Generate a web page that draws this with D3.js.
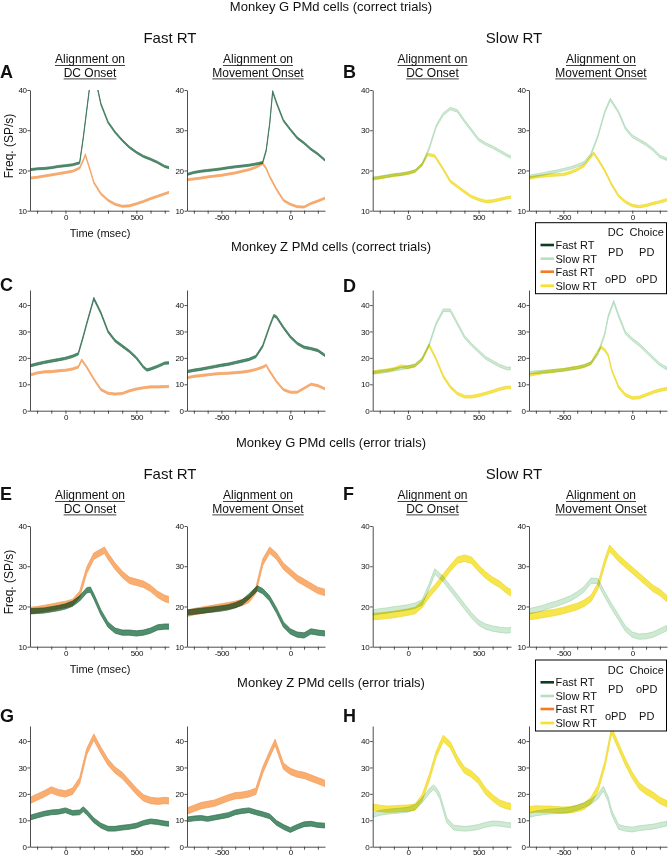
<!DOCTYPE html>
<html><head><meta charset="utf-8">
<script src="https://cdn.jsdelivr.net/npm/d3@7"></script>
<style>
body{margin:0;background:#fff}
svg{display:block}
text{font-family:"Liberation Sans",Arial,Helvetica,sans-serif;fill:#111}
</style>
</head><body>
<svg id="chart" width="668" height="857"></svg>
<script>
// ---------- DATA: [time (ms), firing rate (SP/s)] ----------
// Monkey G, correct trials, Fast RT (A)
const A_dc_PD  = [[-250,20.2],[-200,20.4],[-150,20.5],[-100,20.7],[-50,21],[0,21.2],[50,21.4],[100,21.9],[125,28],[150,35],[175,42],[190,45],[210,43],[250,36.5],[300,32],[350,29.5],[400,27.5],[450,25.8],[500,24.5],[550,23.5],[600,22.8],[650,22],[700,21],[750,20.5]];
const A_dc_oPD = [[-250,18.1],[-200,18.3],[-150,18.6],[-100,18.9],[-50,19.2],[0,19.5],[50,19.8],[100,20.6],[125,22.5],[140,23.9],[175,20],[200,17],[250,14.2],[300,12.6],[350,11.6],[400,11.1],[450,11.2],[500,11.7],[550,12.3],[600,13],[650,13.6],[700,14.2],[750,14.8]];
const A_mv_PD  = [[-750,19],[-700,19.5],[-650,19.8],[-600,20],[-550,20.2],[-500,20.4],[-450,20.7],[-400,20.9],[-350,21.1],[-300,21.3],[-250,21.6],[-200,22],[-175,25],[-150,31.5],[-128,39.6],[-100,36.8],[-50,32.4],[0,30.2],[50,28.1],[100,26.8],[150,25.3],[200,24.1],[250,22.6]];
const A_mv_oPD = [[-750,17.7],[-700,17.9],[-650,18.1],[-600,18.4],[-550,18.6],[-500,18.8],[-450,19.1],[-400,19.4],[-350,19.8],[-300,20.2],[-250,20.8],[-200,21.7],[-175,20.5],[-150,18.5],[-100,15.3],[-50,12.6],[0,11.6],[50,11],[100,10.9],[150,11.8],[200,12.4],[250,13.1]];
// Monkey G, correct trials, Slow RT (B)
const B_dc_PD  = [[-250,18.1],[-200,18.3],[-150,18.6],[-100,18.9],[-50,19.1],[0,19.4],[50,19.9],[100,21.5],[150,25.5],[200,31],[250,34],[300,35.4],[350,34.8],[400,32.3],[450,30],[500,27.7],[550,26.6],[600,25.8],[650,24.8],[700,23.8],[750,23]];
const B_dc_oPD = [[-250,17.9],[-200,18.2],[-150,18.5],[-100,18.8],[-50,19],[0,19.3],[50,19.8],[100,21.5],[140,24],[190,23.6],[250,20.3],[300,17.3],[350,16],[400,14.7],[450,13.5],[500,12.8],[550,12.3],[600,12.4],[650,12.8],[700,13.2],[750,13.5]];
const B_mv_PD  = [[-750,18.5],[-700,18.8],[-650,19.1],[-600,19.5],[-550,19.8],[-500,20.2],[-450,20.6],[-400,21.2],[-350,21.9],[-300,24],[-250,28.5],[-200,34.5],[-160,37.7],[-100,34.5],[-50,30.5],[0,28.5],[50,27.5],[100,26.5],[150,25.2],[200,23.5],[250,22.8]];
const B_mv_oPD = [[-750,18.1],[-700,18.4],[-650,18.6],[-600,18.8],[-550,18.9],[-500,19],[-450,19.5],[-400,20.2],[-350,21.2],[-300,23.4],[-280,24.3],[-250,22.8],[-200,20],[-150,16.5],[-100,13.7],[-50,12.2],[0,11.3],[50,11],[100,11.3],[150,11.8],[200,12.2],[250,12.7]];
// Monkey Z, correct trials, Fast RT (C)
const C_dc_PD  = [[-250,17],[-200,17.7],[-150,18.3],[-100,18.8],[-50,19.3],[0,19.8],[50,20.6],[90,21.5],[125,28],[150,33],[200,42.5],[250,37],[300,30],[350,26.5],[400,24.5],[450,22.5],[500,20],[550,16.5],[575,15.4],[600,15.8],[650,16.8],[700,18],[750,18.2]];
const C_dc_oPD = [[-250,13.5],[-200,14.3],[-150,14.7],[-100,14.8],[-50,15.1],[0,15.3],[50,15.8],[90,16.5],[115,19.2],[150,16.5],[200,12],[250,8],[300,6.6],[350,6.3],[400,6.5],[450,7.5],[500,8.2],[550,8.7],[600,9],[650,9],[700,9.1],[750,9.2]];
const C_mv_PD  = [[-750,14.8],[-700,15.3],[-650,15.7],[-600,16.2],[-550,16.7],[-500,17.2],[-450,17.6],[-400,18.2],[-350,18.8],[-300,19.4],[-250,20.5],[-200,24.5],[-150,32],[-120,36],[-100,35.5],[-50,31.5],[0,28],[50,25.5],[100,24],[150,23.5],[200,22.8],[250,21]];
const C_mv_oPD = [[-750,12.5],[-700,13],[-650,13.3],[-600,13.6],[-550,13.9],[-500,14.1],[-450,14.2],[-400,14.4],[-350,14.6],[-300,15],[-250,15.6],[-200,16.5],[-175,17.2],[-150,15],[-100,11],[-50,8],[0,7],[50,7],[100,8.5],[150,10],[200,9.5],[250,8.3]];
// Monkey Z, correct trials, Slow RT (D)
const D_dc_PD  = [[-250,14.3],[-200,14.6],[-150,15],[-100,15.5],[-50,16],[0,16.5],[50,17.2],[100,19.5],[150,25],[200,33],[250,38],[300,38],[350,33],[400,28],[450,25],[500,22.5],[550,20],[600,18.5],[650,17],[700,16],[750,16]];
const D_dc_oPD = [[-250,14.5],[-200,15],[-150,15.3],[-100,15.8],[-50,16.8],[0,16.5],[50,17],[100,19.5],[150,24.8],[200,19.5],[250,13],[300,9],[350,6.5],[400,5.3],[450,5.3],[500,5.8],[550,6.5],[600,7.3],[650,8.2],[700,8.8],[750,8.8]];
const D_mv_PD  = [[-750,14.4],[-700,14.6],[-650,14.8],[-600,15],[-550,15.2],[-500,15.4],[-450,15.8],[-400,16.3],[-350,17],[-300,18],[-250,21.5],[-200,29],[-175,35.6],[-135,41.3],[-100,36],[-50,29.5],[0,27],[50,25],[100,22.5],[150,20],[200,17.5],[250,16]];
const D_mv_oPD = [[-750,13.5],[-700,14],[-650,14.5],[-600,14.8],[-550,15.2],[-500,15.5],[-450,16],[-400,16.3],[-350,16.8],[-300,18],[-250,22.5],[-225,24],[-200,23],[-175,21],[-150,15.5],[-100,9],[-50,6],[0,4.8],[50,5],[100,6],[150,7],[200,7.8],[250,8.3]];
// Monkey G, error trials, Fast RT (E)
const E_dc_PD  = [[-250,18.8],[-200,18.9],[-150,19],[-100,19.3],[-50,19.6],[0,20],[50,20.7],[100,22],[150,24],[175,24.2],[200,22.5],[250,18.5],[300,15.5],[350,14],[400,13.5],[450,13.5],[500,13.3],[550,13.5],[600,14],[650,14.8],[700,15],[750,15]];
const E_dc_oPD = [[-250,19],[-200,19.2],[-150,19.5],[-100,19.8],[-50,20.2],[0,20.5],[50,21],[100,23],[150,29],[200,32.5],[250,33.5],[275,34],[300,32.5],[350,30],[400,28],[450,26.5],[500,26],[550,25.5],[600,24.5],[650,23],[700,22],[750,21.5]];
const E_mv_PD  = [[-750,18.5],[-700,18.7],[-650,18.9],[-600,19.1],[-550,19.3],[-500,19.5],[-450,19.8],[-400,20.3],[-350,21],[-300,22.5],[-240,24.5],[-200,23.8],[-150,22],[-100,19],[-50,15.5],[0,13.8],[50,13],[100,12.8],[150,13.8],[200,13.5],[250,13.3]];
const E_mv_oPD = [[-750,18.3],[-700,18.7],[-650,19],[-600,19.3],[-550,19.6],[-500,19.9],[-450,20.2],[-400,20.5],[-350,21],[-300,21.8],[-250,24],[-200,31],[-150,34],[-100,32.5],[-50,30],[0,28.5],[50,27],[100,26],[150,25],[200,24],[250,23.5]];
// Monkey G, error trials, Slow RT (F)
const F_dc_PD  = [[-250,18.5],[-200,18.8],[-150,19],[-100,19.3],[-50,19.5],[0,19.8],[50,20.2],[100,21],[150,25],[190,28.7],[250,26.8],[300,24.5],[350,22.3],[400,20],[450,17.8],[500,16],[550,15],[600,14.5],[650,14.2],[700,14],[750,14.3]];
const F_dc_oPD = [[-250,17.5],[-200,17.6],[-150,17.8],[-100,18],[-50,18.3],[0,18.6],[50,19],[100,20.5],[150,23],[200,25],[250,27.3],[300,29.5],[350,31.5],[400,32],[450,31.5],[500,29.5],[550,27.8],[600,26.5],[650,25.5],[700,24],[750,23]];
const F_mv_PD  = [[-750,18.8],[-700,19.2],[-650,19.6],[-600,20.2],[-550,20.7],[-500,21.3],[-450,22],[-400,23],[-350,24.3],[-300,26.4],[-250,26.3],[-200,23],[-150,20],[-100,17.3],[-50,14.5],[0,13],[50,12.5],[100,12.6],[150,13],[200,13.8],[250,14.6]];
const F_mv_oPD = [[-750,17.5],[-700,17.7],[-650,18],[-600,18.3],[-550,18.6],[-500,19],[-450,19.5],[-400,20],[-350,20.8],[-300,22],[-250,25],[-200,31],[-165,34.5],[-100,32],[-50,30.5],[0,29],[50,27.5],[100,26],[150,24.5],[200,23.5],[250,22]];
// Monkey Z, error trials, Fast RT (G)
const G_dc_PD  = [[-250,11],[-200,11.8],[-150,12.5],[-100,13],[-50,13.2],[0,13.8],[50,12.8],[100,13],[125,14.2],[150,13],[200,10],[250,8],[300,6.8],[350,6.8],[400,7.2],[450,7.5],[500,8],[550,9],[600,9.6],[650,9.3],[700,8.8],[750,8.5]];
const G_dc_oPD = [[-250,17.5],[-200,18.8],[-150,20],[-100,21.5],[-50,20.5],[0,20],[50,21],[100,25],[150,36],[200,41.5],[250,36.5],[300,32],[350,29],[400,27],[450,24],[500,21],[550,18.5],[600,17.5],[650,17.2],[700,17.5],[750,17.3]];
const G_mv_PD  = [[-750,10.3],[-700,10.7],[-650,10.9],[-600,10.5],[-550,11],[-500,11.5],[-450,12],[-400,13],[-350,13.5],[-300,13.8],[-250,13],[-200,12.3],[-150,11.5],[-100,9],[-50,7.5],[0,6.3],[50,7.5],[100,8.5],[150,8.7],[200,8.2],[250,8]];
const G_mv_oPD = [[-750,13.5],[-700,14.5],[-650,15.5],[-600,16],[-550,16.5],[-500,17.5],[-450,18.5],[-400,19.3],[-350,19.5],[-300,20],[-250,21],[-200,29],[-150,35],[-110,39.5],[-50,30.5],[0,28.5],[50,27.5],[100,27],[150,26],[200,25],[250,24]];
// Monkey Z, error trials, Slow RT (H)
const H_dc_PD  = [[-250,12],[-200,12.8],[-150,13.2],[-100,13.5],[-50,13.7],[0,14],[50,15],[100,17.5],[150,21],[180,22.5],[200,21.5],[225,19.2],[275,10],[325,7.2],[400,6.8],[450,7],[500,7.5],[550,8.3],[600,8.8],[650,8.7],[700,8.3],[750,8]];
const H_dc_oPD = [[-250,15],[-200,14.5],[-150,14.2],[-100,14.3],[-50,14.5],[0,14.6],[50,15],[100,18.5],[150,26],[200,35],[250,41],[300,38.5],[350,33],[400,29],[450,27.5],[500,25],[550,21],[600,18.5],[650,16.5],[700,15.5],[750,15]];
const H_mv_PD  = [[-750,12],[-700,12.6],[-650,13],[-600,13.3],[-550,13.5],[-500,13.7],[-450,14],[-400,14.8],[-350,15.8],[-300,17],[-250,19],[-210,22],[-175,18],[-150,13],[-100,7.5],[-50,6.8],[0,6.5],[50,7],[100,7.3],[150,7.6],[200,8.2],[250,8.7]];
const H_mv_oPD = [[-750,14],[-700,14.3],[-650,14.2],[-600,14.2],[-550,14],[-500,13.8],[-450,14],[-400,14.5],[-350,15.3],[-300,17.5],[-250,22],[-200,31],[-150,44],[-100,38],[-50,32],[0,27],[50,23],[100,21],[150,19.5],[200,17.5],[250,16.3]];

// ---------- Labels / ticks ----------
const titles = ["Monkey G PMd cells (correct trials)","Monkey Z PMd cells (correct trials)","Monkey G PMd cells (error trials)","Monkey Z PMd cells (error trials)"];
const groupTitles = ["Fast RT","Slow RT"];
const alignTitles = [["Alignment on","DC Onset"],["Alignment on","Movement Onset"]];
const dcTicks = [-200,-100,0,100,200,300,400,500,600,700];
const dcLabels = [0,500];
const mvTicks = [-700,-600,-500,-400,-300,-200,-100,0,100,200];
const mvLabels = [-500,0];
const yTicksTop = [10,20,30,40];
const yTicksBottom = [0,10,20,30,40];
const legendNames = ["Fast RT","Slow RT","Fast RT","Slow RT"];
const legendCols = ["DC","Choice"];
const legendTables = [[["PD","PD"],["oPD","oPD"]],[["PD","oPD"],["oPD","PD"]]];

// ---------- Styles ----------
const styles = {
  fastPD:  {fill:"#4f8f6d", stroke:"#2f6b4d"},
  fastOPD: {fill:"#f9ae70", stroke:"#f29a58"},
  slowPD:  {fill:"#cfe9d3", stroke:"#a9d7b4"},
  slowOPD: {fill:"#f7e54c", stroke:"#ecd62e"}
};
const legendColors = ["#0b3d20","#b7e0c2","#f47a26","#f6e22c"];

const panels = [
  {id:"A", set:0,row:0,side:0, dc:[A_dc_PD,A_dc_oPD], mv:[A_mv_PD,A_mv_oPD], sem:[0.25,0.25]},
  {id:"B", set:0,row:0,side:1, dc:[B_dc_PD,B_dc_oPD], mv:[B_mv_PD,B_mv_oPD], sem:[0.3,0.3]},
  {id:"C", set:0,row:1,side:0, dc:[C_dc_PD,C_dc_oPD], mv:[C_mv_PD,C_mv_oPD], sem:[0.45,0.4]},
  {id:"D", set:0,row:1,side:1, dc:[D_dc_PD,D_dc_oPD], mv:[D_mv_PD,D_mv_oPD], sem:[0.5,0.5]},
  {id:"E", set:1,row:0,side:0, dc:[E_dc_PD,E_dc_oPD], mv:[E_mv_PD,E_mv_oPD], sem:[0.65,0.8]},
  {id:"F", set:1,row:0,side:1, dc:[F_dc_PD,F_dc_oPD], mv:[F_mv_PD,F_mv_oPD], sem:[0.65,0.8]},
  {id:"G", set:1,row:1,side:0, dc:[G_dc_PD,G_dc_oPD], mv:[G_mv_PD,G_mv_oPD], sem:[0.9,1.2]},
  {id:"H", set:1,row:1,side:1, dc:[H_dc_PD,H_dc_oPD], mv:[H_mv_PD,H_mv_oPD], sem:[0.9,1.2]}
];

// ---------- Layout ----------
const SET_DY = 436;
const cols = [[30,169],[187,325],[372.7,511],[529,667]];
const rowsGeom = [{top:90,bot:210.7,dom:[10,40],ticks:yTicksTop},{top:290,bot:410.7,dom:[0,45.7],ticks:yTicksBottom}];
const letterPos = {A:[0,78],B:[343,78],C:[0,290.5],D:[343,291.5],E:[0,500],F:[343,500],G:[0,722],H:[343,722]};

const svg = d3.select("#chart");
const defs = svg.append("defs");
let clipId = 0;

function drawSubplot(x0,x1,yTop,yBot,ydom,yticks,type,seriesList,sems,side,isLast){
  const x = d3.scaleLinear().domain(type==="dc"?[-250,730]:[-750,252]).range([x0,x1]);
  const y = d3.scaleLinear().domain(ydom).range([yBot,yTop]);
  const id = "clip"+(clipId++);
  defs.append("clipPath").attr("id",id).append("rect")
    .attr("x",x0).attr("y",yTop).attr("width",x1-x0).attr("height",yBot-yTop);
  const g = svg.append("g").attr("clip-path",`url(#${id})`).style("isolation","isolate");
  const stylePair = side===0 ? [styles.fastPD,styles.fastOPD] : [styles.slowPD,styles.slowOPD];
  [1,0].forEach(i=>{
    const sem = sems[i];
    const area = d3.area().x(d=>x(d[0])).y0(d=>y(d[1]-sem)).y1(d=>y(d[1]+sem));
    g.append("path").datum(seriesList[i]).attr("d",area)
      .attr("fill",stylePair[i].fill).attr("stroke",stylePair[i].stroke)
      .attr("stroke-width",0.7).attr("stroke-linejoin","round")
      .style("mix-blend-mode","multiply");
  });
  // axes
  const xa = d3.axisBottom(x).tickValues(type==="dc"?dcTicks:mvTicks)
    .tickSize(3).tickSizeOuter(0).tickPadding(isLast ? -0.8 : 1)
    .tickFormat(d => (type==="dc"?dcLabels:mvLabels).includes(d) ? d : "");
  const gx = svg.append("g").attr("transform",`translate(0,${yBot})`).call(xa);
  const ya = d3.axisLeft(y).tickValues(yticks).tickSize(2.5).tickSizeOuter(0).tickPadding(1);
  const gy = svg.append("g").attr("transform",`translate(${x0},0)`).call(ya);
  [gx,gy].forEach(a=>{
    a.attr("font-family",null).attr("font-size",null);
    a.selectAll("path,line").attr("stroke","#3a3a3a").attr("stroke-width",0.9);
    a.selectAll("text").attr("font-size","8px").attr("fill","#222").style("letter-spacing","-0.4px");
  });
}

panels.forEach(p=>{
  const rg = rowsGeom[p.row];
  const oy = p.set*SET_DY;
  const isLast = p.set===1 && p.row===1;
  const c0 = cols[p.side*2], c1 = cols[p.side*2+1];
  drawSubplot(c0[0],c0[1],rg.top+oy,rg.bot+oy,rg.dom,rg.ticks,"dc",p.dc,p.sem,p.side,isLast);
  drawSubplot(c1[0],c1[1],rg.top+oy,rg.bot+oy,rg.dom,rg.ticks,"mv",p.mv,p.sem,p.side,isLast);
  const lp = letterPos[p.id];
  svg.append("text").attr("x",lp[0]).attr("y",lp[1]).attr("font-size","18px").attr("font-weight","bold").text(p.id);
});

// Titles
[[0,10.5],[1,250.5],[2,446.5],[3,686.5]].forEach(([i,yb])=>{
  svg.append("text").attr("x",331).attr("y",yb).attr("text-anchor","middle").attr("font-size","13px").text(titles[i]);
});
const alignCenters = [90,258,432.5,601];
[0,1].forEach(s=>{
  const oy = s*SET_DY;
  svg.append("text").attr("x",170).attr("y",43+oy).attr("text-anchor","middle").attr("font-size","15px").text(groupTitles[0]);
  svg.append("text").attr("x",514).attr("y",43+oy).attr("text-anchor","middle").attr("font-size","15px").text(groupTitles[1]);
  alignCenters.forEach((cx,k)=>{
    const lines = alignTitles[k%2];
    lines.forEach((ln,j)=>{
      const yb = 63.3 + j*13.4 + oy;
      const t = svg.append("text").attr("x",cx).attr("y",yb).attr("text-anchor","middle").attr("font-size","12px").text(ln);
      const w = t.node().getComputedTextLength();
      svg.append("line").attr("x1",cx-w/2).attr("x2",cx+w/2).attr("y1",yb+2.2).attr("y2",yb+2.2)
        .attr("stroke","#111").attr("stroke-width",0.8);
    });
  });
  svg.append("text").attr("transform",`translate(12.5,${146+oy}) rotate(-90)`).attr("text-anchor","middle").attr("font-size","12px").text("Freq. (SP/s)");
  svg.append("text").attr("x",100).attr("y",236.5+oy).attr("text-anchor","middle").attr("font-size","11px").text("Time (msec)");
});

// Legends
[0,1].forEach(s=>{
  const top = 222.7 + s*437.3;
  const lg = svg.append("g");
  lg.append("rect").attr("x",535.5).attr("y",top).attr("width",131).attr("height",71)
    .attr("fill","#fff").attr("stroke","#000").attr("stroke-width",1);
  legendCols.forEach((c,k)=>{
    lg.append("text").attr("x",[615.7,646.7][k]).attr("y",top+13.6).attr("text-anchor","middle").attr("font-size","11px").text(c);
  });
  const rowY = [22.3,36,49,63];
  legendNames.forEach((n,k)=>{
    const yy = top + rowY[k];
    lg.append("line").attr("x1",540.5).attr("x2",554).attr("y1",yy).attr("y2",yy)
      .attr("stroke",legendColors[k]).attr("stroke-width",2.6);
    lg.append("text").attr("x",555.5).attr("y",yy+4).attr("font-size","11px").text(n);
  });
  legendTables[s].forEach((row,r)=>{
    row.forEach((v,k)=>{
      lg.append("text").attr("x",[615.7,646.7][k]).attr("y",top+[33.3,60][r]).attr("text-anchor","middle").attr("font-size","11px").text(v);
    });
  });
});
</script>
</body></html>
